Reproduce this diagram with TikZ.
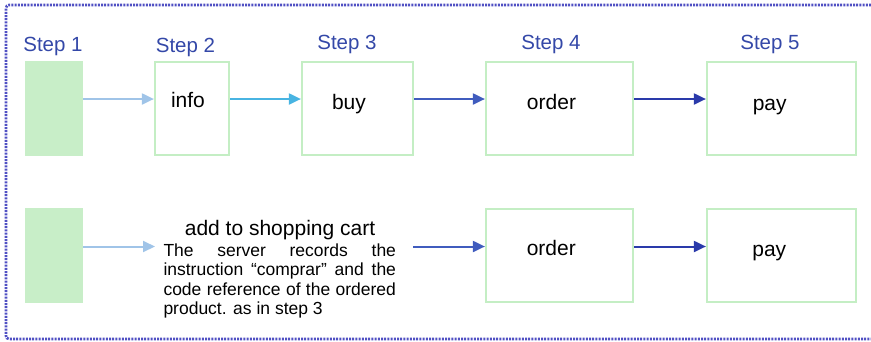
\documentclass[tikz,border=0pt]{standalone}
\usepackage{fontspec}
\setmainfont{Liberation Sans}
\usetikzlibrary{arrows.meta}
\definecolor{stepblue}{RGB}{52,72,168}
\definecolor{boxgreen}{RGB}{196,238,196}
\definecolor{barfill}{RGB}{200,238,200}
\definecolor{framecol}{RGB}{80,80,195}
\definecolor{arrowlight}{RGB}{160,196,232}
\definecolor{arrowcyan}{RGB}{72,180,226}
\definecolor{arrowmid}{RGB}{64,92,190}
\definecolor{arrowdark}{RGB}{42,58,170}
\begin{document}
\begin{tikzpicture}[x=1pt, y=-1pt,
	box/.style={draw=boxgreen, line width=2.2pt, inner sep=0pt, minimum height=93pt},
	bar/.style={box, draw=barfill, fill=barfill, minimum width=56pt},
	steplabel/.style={text=stepblue, font=\fontsize{20.5}{24}\selectfont, anchor=base, inner sep=0pt},
	word/.style={font=\fontsize{21}{25}\selectfont, anchor=base, inner sep=0pt},
	flow/.style={line width=2pt, -{Triangle[length=12pt,width=11pt]}}]
	\useasboundingbox (0,0) rectangle (871,341);
	\draw[framecol, line width=2.6pt, dash pattern=on 2pt off 1.2pt, rounded corners=3pt] (871,5) -- (6,5) -- (6,339) -- (871,339);

	\node[steplabel] (step1) at (53,51.7) {Step 1};
	\node[steplabel] (step2) at (185.5,52.7) {Step 2};
	\node[steplabel] (step3) at (347,49) {Step 3};
	\node[steplabel] (step4) at (551,49) {Step 4};
	\node[steplabel] (step5) at (770,49.3) {Step 5};

	\node[bar] (bar1) at (54,108.5) {};
	\node[box, minimum width=74pt] (info) at (192,108.5) {};
	\node[box, minimum width=111pt] (buy) at (357.5,108.5) {};
	\node[box, minimum width=147pt] (order) at (559.5,108.5) {};
	\node[box, minimum width=149pt] (pay) at (781.5,108.5) {};
	\node[word] (infotext) at (188,107) {info};
	\node[word] (buytext) at (349,109) {buy};
	\node[word] (ordertext) at (551.5,109) {order};
	\node[word] (paytext) at (769.7,110) {pay};

	\draw[flow, arrowlight] ([yshift=9.5pt]bar1.east) -- ([yshift=9.5pt]info.west);
	\draw[flow, arrowcyan] ([yshift=9.5pt]info.east) -- ([yshift=9.5pt]buy.west);
	\draw[flow, arrowmid] ([yshift=9.5pt]buy.east) -- ([yshift=9.5pt]order.west);
	\draw[flow, arrowdark] ([yshift=9.5pt]order.east) -- ([yshift=9.5pt]pay.west);

	\node[bar] (bar2) at (54,255.5) {};
	\node[box, minimum width=147pt] (order2) at (559.5,255.5) {};
	\node[box, minimum width=149pt] (pay2) at (781.5,255.5) {};
	\node[word] (order2text) at (551.3,255) {order};
	\node[word] (pay2text) at (769.3,256) {pay};
	\node[word] (cart) at (280,235) {add to shopping cart};
	\node[anchor=north west, inner sep=0pt, text width=232.5pt, align=justify,
		font=\fontsize{17.5}{19.2}\selectfont] (server) at (163.3,243.8)
		{The server records the\linebreak instruction “comprar” and the\linebreak code reference of the ordered\linebreak product. as in step 3};
	\coordinate (cartin) at (155,246.5);
	\coordinate (cartout) at (413,246.5);

	\draw[flow, arrowlight] ([yshift=9pt]bar2.east) -- (cartin);
	\draw[flow, arrowmid] (cartout) -- ([yshift=9pt]order2.west);
	\draw[flow, arrowdark] ([yshift=9pt]order2.east) -- ([yshift=9pt]pay2.west);
\end{tikzpicture}
\end{document}
